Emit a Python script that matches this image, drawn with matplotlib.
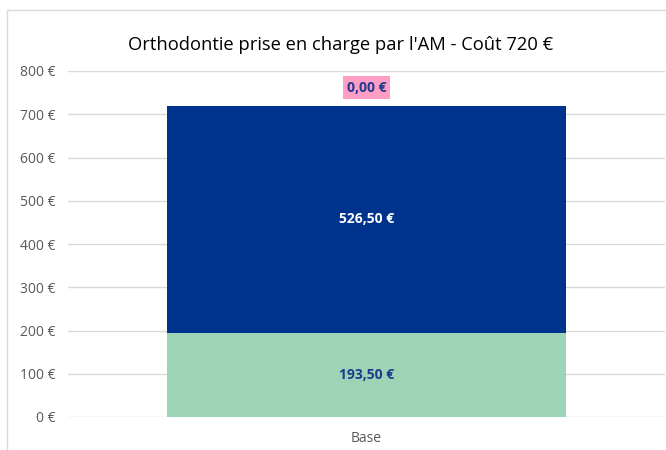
import matplotlib.pyplot as plt
from matplotlib.patches import Rectangle

# Chart data
categories = ["Base"]
reste_a_charge = [193.50]
prise_en_charge = [526.50]
complement = [0.00]
yticks = [0, 100, 200, 300, 400, 500, 600, 700, 800]

green = "#9DD4B5"
blue = "#00338D"
pink = "#FF9DC4"
label_blue = "#1F3B8F"

plt.rcParams['font.family'] = ['Open Sans', 'DejaVu Sans']

fig = plt.figure(figsize=(6.66, 4.5), dpi=100)
ax = fig.add_axes([68 / 666, 33 / 450, 597 / 666, 346 / 450])

# chart border (cropped on right/bottom like the source)
fig.patches.append(Rectangle((7 / 666, -0.1), 2, (440 / 450) + 0.1,
                             transform=fig.transFigure, fill=False,
                             edgecolor="#D9D9D9", linewidth=1))

x = range(len(categories))
width = 0.667
ax.bar(x, reste_a_charge, width, color=green, zorder=3)
ax.bar(x, prise_en_charge, width, bottom=reste_a_charge, color=blue, zorder=3)
bottom3 = [a + b for a, b in zip(reste_a_charge, prise_en_charge)]
ax.bar(x, complement, width, bottom=bottom3, color=pink, zorder=3)

def fmt(v):
    return f"{v:,.2f} €".replace(",", " ").replace(".", ",")

for i in x:
    ax.text(i, reste_a_charge[i] / 2, fmt(reste_a_charge[i]), ha="center", va="center",
            color=label_blue, fontsize=10, fontweight="bold", zorder=4)
    ax.text(i, reste_a_charge[i] + prise_en_charge[i] / 2, fmt(prise_en_charge[i]),
            ha="center", va="center", color="white", fontsize=10, fontweight="bold", zorder=4)
    ax.annotate(fmt(complement[i]), (i, bottom3[i] + complement[i]), xytext=(0, 13),
                textcoords="offset points", ha="center", va="center",
                color=label_blue, fontsize=10, fontweight="bold", zorder=4,
                bbox=dict(boxstyle="square,pad=0.3", facecolor=pink, edgecolor="none"))

ax.set_ylim(0, 800)
ax.set_xlim(-0.5, len(categories) - 0.5)
ax.set_yticks(yticks)
ax.set_yticklabels([f"{t} €" for t in yticks])
ax.set_xticks(list(x))
ax.set_xticklabels(categories)
ax.tick_params(axis="both", length=0, colors="#595959", labelsize=10)
ax.tick_params(axis="y", pad=9)
ax.tick_params(axis="x", pad=10)
ax.grid(axis="y", color="#D9D9D9", linewidth=1, zorder=0)
for s in ax.spines.values():
    s.set_visible(False)

fig.suptitle("Orthodontie prise en charge par l'AM - Coût 720 €", x=341 / 666,
             y=1 - 45 / 450, va="center", fontsize=13.2, color="#000000")

fig.savefig("out.png", dpi=100)
